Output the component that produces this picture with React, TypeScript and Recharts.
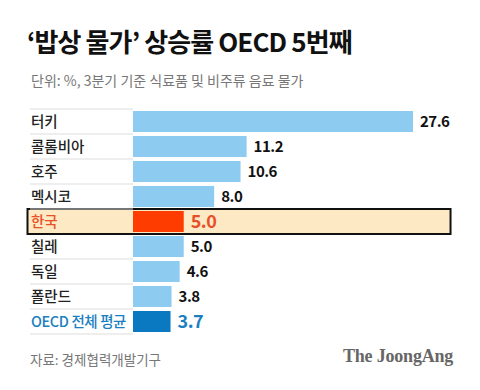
import { BarChart, Bar, XAxis, YAxis, Cell, LabelList, ReferenceArea } from 'recharts'

const countries = ['터키', '콜롬비아', '호주', '멕시코', '한국', '칠레', '독일', '폴란드', 'OECD 전체 평균']
const rates = [27.6, 11.2, 10.6, 8.0, 5.0, 5.0, 4.6, 3.8, 3.7]
const highlight = '한국'
const average = 'OECD 전체 평균'

const data = countries.map((name, i) => ({ name, rate: rates[i] }))

const FONT = '"Noto Sans CJK KR", "Noto Sans", sans-serif'

function barColor(name: string) {
  if (name === highlight) return '#ff3c00'
  if (name === average) return '#0b78c2'
  return '#8ecbf1'
}

function textColor(name: string) {
  if (name === highlight) return '#e8502a'
  if (name === average) return '#1c7fc0'
  return '#111'
}

function CountryTick({ y, payload, index }: any) {
  const name = payload.value
  return (
    <g>
      {index === 0 && <line x1={30} x2={133} y1={y - 12.5} y2={y - 12.5} stroke="#ddd" />}
      {name !== highlight && <line x1={30} x2={133} y1={y + 12.5} y2={y + 12.5} stroke="#ddd" />}
      <text
        x={31}
        y={y}
        dy={5}
        textAnchor="start"
        fontFamily={FONT}
        fontSize={14.5}
        fontWeight={500}
        letterSpacing={name === average ? -0.4 : 0}
        fill={name === highlight || name === average ? textColor(name) : '#222'}
      >
        {name}
      </text>
    </g>
  )
}

function ValueLabel({ x, y, width, height, value, index }: any) {
  const name = countries[index]
  const big = name === highlight || name === average
  return (
    <text
      x={x + width + 7}
      y={y + height / 2}
      dy={big ? 6 : 5}
      fontFamily={FONT}
      fontSize={big ? 18 : 15}
      fontWeight={700}
      letterSpacing={-0.5}
      fill={textColor(name)}
    >
      {value.toFixed(1)}
    </text>
  )
}

export default function App() {
  return (
    <div style={{ position: 'absolute', left: 0, top: 0, width: 480, height: 390, background: '#fff', fontFamily: FONT }}>
      <div style={{ position: 'absolute', left: 27, top: 22, fontSize: 26, fontWeight: 700, letterSpacing: -0.9, color: '#111', whiteSpace: 'nowrap' }}>
        ‘밥상 물가’ 상승률 OECD 5번째
      </div>
      <div style={{ position: 'absolute', left: 31, top: 70, fontSize: 14, color: '#777', whiteSpace: 'nowrap' }}>
        단위: %, 3분기 기준 식료품 및 비주류 음료 물가
      </div>
      <BarChart
        width={480}
        height={390}
        data={data}
        layout="vertical"
        margin={{ top: 109, right: 67, bottom: 56, left: 30 }}
        barCategoryGap={2}
      >
        <XAxis type="number" domain={[0, 27.6]} hide />
        <YAxis
          type="category"
          dataKey="name"
          width={103}
          axisLine={false}
          tickLine={false}
          tick={<CountryTick />}
          interval={0}
        />
        <ReferenceArea
          y1={highlight}
          y2={highlight}
          x1={-10.4}
          x2={31.3}
          ifOverflow="visible"
          fill="#fde9c3"
          fillOpacity={1}
          stroke="#111"
          strokeWidth={2}
        />
        <Bar dataKey="rate" isAnimationActive={false} barSize={21}>
          {data.map((d) => (
            <Cell key={d.name} fill={barColor(d.name)} />
          ))}
          <LabelList dataKey="rate" content={<ValueLabel />} />
        </Bar>
      </BarChart>
      <div style={{ position: 'absolute', left: 30, top: 349, fontSize: 13.5, color: '#777', whiteSpace: 'nowrap' }}>
        자료: 경제협력개발기구
      </div>
      <div
        style={{
          position: 'absolute',
          left: 343,
          top: 346,
          fontSize: 18,
          fontWeight: 700,
          fontFamily: '"Liberation Serif", "DejaVu Serif", serif',
          color: '#666',
          letterSpacing: -0.2,
          whiteSpace: 'nowrap',
        }}
      >
        The JoongAng
      </div>
    </div>
  )
}
